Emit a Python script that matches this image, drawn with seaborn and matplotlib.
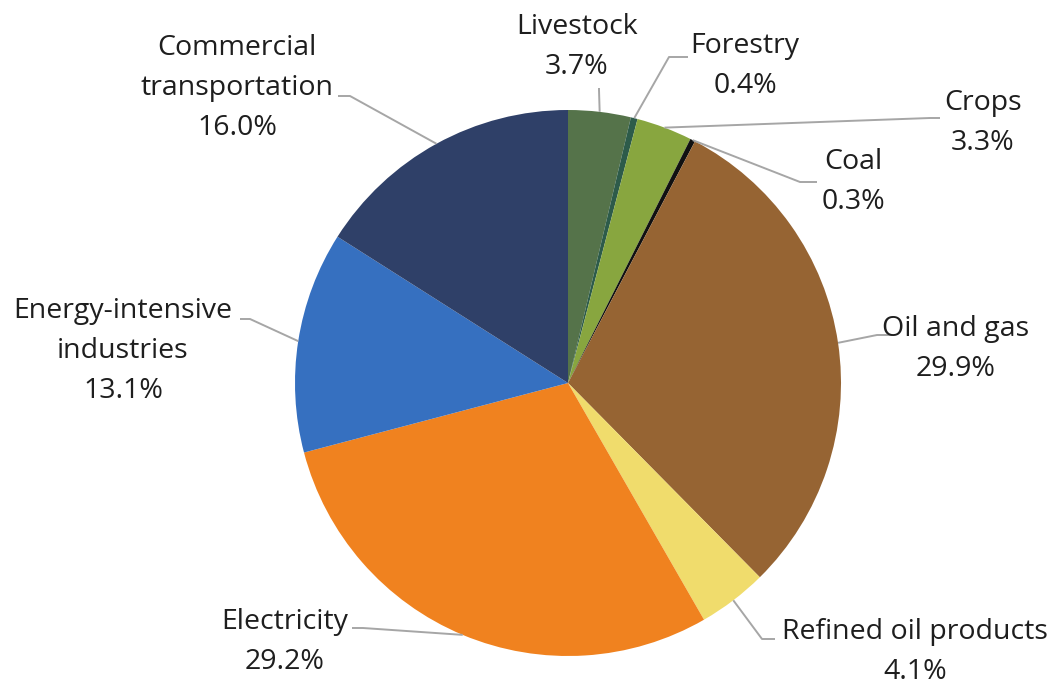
import numpy as np
import matplotlib
matplotlib.use("Agg")
import matplotlib.pyplot as plt
import seaborn as sns

# Emissions shares by sector (%)
sectors = ["Livestock", "Forestry", "Crops", "Coal", "Oil and gas",
           "Refined oil products", "Electricity", "Energy-intensive\nindustries",
           "Commercial\ntransportation"]
shares = [3.7, 0.4, 3.3, 0.3, 29.9, 4.1, 29.2, 13.1, 16.0]
colors = ["#55734A", "#2D5B4A", "#88A63F", "#111111", "#966433",
          "#F0DC6C", "#F0821F", "#3670C0", "#2F4068"]

# Label layout in pixel coordinates (origin top-left)
label_pos = [(577, 47), (745, 66), (983, 123), (853, 182), (956, 349),
             (915, 652), (285, 642), (123, 351), (237, 88)]
leader_start = [(599, 88), (688, 57), (940, 118), (817, 182), (892, 335),
                (775, 639), (352, 628), (240, 319), (338, 96)]
leader_elbow = [(599, 90), (669, 57), (930, 118), (800, 182), (877, 335),
                (762, 639), (363, 628), (250, 319), (350, 96)]

W, H = 1060, 685
CX, CY, R = 568, 383, 273

sns.set_theme(style="white")
plt.rcParams["font.family"] = ["Open Sans", "DejaVu Sans"]

fig = plt.figure(figsize=(W / 100, H / 100), dpi=100)
ax = fig.add_axes([0, 0, 1, 1])

ax.pie(shares, colors=colors, startangle=90, counterclock=False,
       center=(CX, H - CY), radius=R, frame=True,
       wedgeprops=dict(linewidth=0))
ax.set_xlim(0, W)
ax.set_ylim(0, H)
ax.set_aspect("equal")
ax.axis("off")

cum = np.cumsum([0] + shares)
for i, (name, val) in enumerate(zip(sectors, shares)):
    mid = np.deg2rad(90 - (cum[i] + val / 2) * 3.6)
    ex, ey = CX + R * np.cos(mid), (H - CY) + R * np.sin(mid)
    sx, sy = leader_start[i]
    bx, by = leader_elbow[i]
    ax.plot([sx, bx, ex], [H - sy, H - by, ey], color="#A6A6A6",
            lw=1.4, solid_capstyle="butt", zorder=3)
    lx, ly = label_pos[i]
    ax.text(lx, H - ly, f"{name}\n{val:.1f}%", ha="center", va="center",
            fontsize=20.5, color="#1E1E1E", linespacing=1.58, zorder=4)

fig.savefig("out.png", dpi=100, facecolor="white")
